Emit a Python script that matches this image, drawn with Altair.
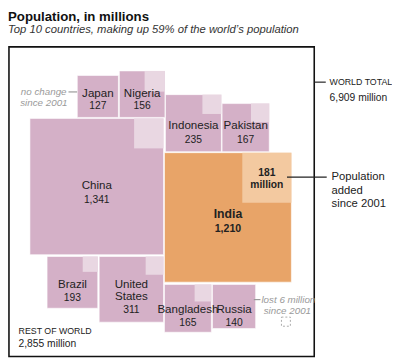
import math
import altair as alt
import pandas as pd

# ---------------- data ----------------
countries = ["China", "India", "Indonesia", "Pakistan", "Japan", "Nigeria",
             "Brazil", "United States", "Bangladesh", "Russia"]
population = [1341, 1210, 235, 167, 127, 156, 193, 311, 165, 140]          # millions
added_since_2001 = [65, 181, 27, 25, 0, 31, 17, 24, 21, -6]                # millions
value_labels = ["1,341", "1,210", "235", "167", "127", "156", "193", "311", "165", "140"]
world_total_label = "6,909 million"
rest_of_world_label = "2,855 million"
title_text = "Population, in millions"
subtitle_text = "Top 10 countries, making up 59% of the world\u2019s population"

# ---------------- layout (reference pixel units) ----------------
K = 3.8  # px per sqrt(million)
anchor_x = [162, 163, 164, 223, 115, 116, 93.5, 162, 163, 213]
anchor_y = [116, 151, 150, 150, 115, 115, 257, 257, 285.5, 285.5]
anchor_h = ["right", "left", "left", "left", "right", "left", "right", "right", "left", "left"]
anchor_v = ["top", "top", "bottom", "bottom", "bottom", "bottom", "top", "top", "top", "top"]
name_y = [184, 214, 123, 123, 90, 90, 285, 285, 311, 311]
value_y = [199, 229, 138, 138, 103, 103, 299, 312, 325, 325]
loss_center = (289.5, 323.5)

FONT = "Liberation Sans"
MAUVE = "#d4b0c7"
MAUVE_LIGHT = "#e9d7e2"
ORANGE = "#e8a468"
ORANGE_LIGHT = "#f3c9a0"
DARK = "#222222"
GREY = "#9a9a9a"

squares, lights, dashed, texts, rules = [], [], [], [], []
for i, c in enumerate(countries):
    side = K * math.sqrt(population[i])
    x0 = anchor_x[i] if anchor_h[i] == "left" else anchor_x[i] - side
    y0 = anchor_y[i] if anchor_v[i] == "top" else anchor_y[i] - side
    x1, y1 = x0 + side, y0 + side
    india = c == "India"
    squares.append(dict(x=x0, x2=x1, y=y0, y2=y1, color=ORANGE if india else MAUVE))
    a = added_since_2001[i]
    if a > 0:
        s = K * math.sqrt(a)
        lights.append(dict(x=x1 - s, x2=x1, y=y0, y2=y0 + s,
                           color=ORANGE_LIGHT if india else MAUVE_LIGHT))
        if india:
            cx, cy = x1 - s / 2, y0 + s / 2
            texts.append(dict(x=cx, y=cy - 5, text=f"{a}", size=10.5, color=DARK, w="bold", st="normal", al="center"))
            texts.append(dict(x=cx, y=cy + 7, text="million", size=10.5, color=DARK, w="bold", st="normal", al="center"))
            rules.append(dict(x=cx + 21, x2=332, y=176, y2=176, color=DARK))
    elif a < 0:
        s = K * math.sqrt(-a)
        dashed.append(dict(x=loss_center[0] - s / 2, x2=loss_center[0] + s / 2,
                           y=loss_center[1] - s / 2, y2=loss_center[1] + s / 2))
    cx = (x0 + x1) / 2
    lines = ["United", "States"] if c == "United States" else [c]
    for j, ln in enumerate(lines):
        texts.append(dict(x=cx, y=name_y[i] + 12 * j, text=ln, size=12.5 if india else 11.8,
                          color=DARK, w="bold" if india else "normal", st="normal", al="center"))
    texts.append(dict(x=cx, y=value_y[i], text=value_labels[i], size=10.8 if india else 10.5,
                      color=DARK, w="bold" if india else "normal", st="normal", al="center"))

# annotations
texts += [
    dict(x=0, y=13, text=title_text, size=13.5, color="#111", w="bold", st="normal", al="left"),
    dict(x=0, y=26, text=subtitle_text, size=11.5, color="#333", w="normal", st="italic", al="left"),
    dict(x=335, y=79, text="WORLD TOTAL", size=9, color=DARK, w="normal", st="normal", al="left"),
    dict(x=335, y=95, text=world_total_label, size=10.5, color=DARK, w="normal", st="normal", al="left"),
    dict(x=337, y=176, text="Population", size=11.5, color=DARK, w="normal", st="normal", al="left"),
    dict(x=337, y=190, text="added", size=11.5, color=DARK, w="normal", st="normal", al="left"),
    dict(x=337, y=203, text="since 2001", size=11.5, color=DARK, w="normal", st="normal", al="left"),
    dict(x=61, y=89, text="no change", size=10, color=GREY, w="normal", st="italic", al="right"),
    dict(x=62, y=100, text="since 2001", size=10, color=GREY, w="normal", st="italic", al="right"),
    dict(x=264, y=301, text="lost 6 million", size=10, color=GREY, w="normal", st="italic", al="left"),
    dict(x=291, y=313, text="since 2001", size=10, color=GREY, w="normal", st="italic", al="center"),
    dict(x=11, y=333, text="REST OF WORLD", size=9, color=DARK, w="normal", st="normal", al="left"),
    dict(x=11, y=346, text=rest_of_world_label, size=10.5, color=DARK, w="normal", st="normal", al="left"),
]
rules += [
    dict(x=319, x2=331, y=79, y2=79, color=DARK),
    dict(x=63, x2=72, y=89, y2=89, color=GREY),
    dict(x=256, x2=263, y=301, y2=301, color=GREY),
]
frame = [dict(x=1, x2=319, y=43, y2=359)]

xs = alt.Scale(domain=[0, 400], nice=False, zero=False)
ys = alt.Scale(domain=[7, 361], nice=False, zero=False, reverse=True)

def pos():
    return dict(x=alt.X("x:Q", scale=xs, axis=None), x2="x2:Q",
                y=alt.Y("y:Q", scale=ys, axis=None), y2="y2:Q")

layers = []
layers.append(alt.Chart(pd.DataFrame(squares)).mark_rect(stroke="white", strokeWidth=0.6)
              .encode(**pos(), color=alt.Color("color:N", scale=None)))
layers.append(alt.Chart(pd.DataFrame(lights)).mark_rect()
              .encode(**pos(), color=alt.Color("color:N", scale=None)))
layers.append(alt.Chart(pd.DataFrame(dashed)).mark_rect(fillOpacity=0, stroke="#aaaaaa",
                                                        strokeWidth=1, strokeDash=[2, 2])
              .encode(**pos()))
layers.append(alt.Chart(pd.DataFrame(frame)).mark_rect(fillOpacity=0, stroke="#111111", strokeWidth=1.6)
              .encode(**pos()))
layers.append(alt.Chart(pd.DataFrame(rules)).mark_rule(strokeWidth=1.2)
              .encode(**pos(), color=alt.Color("color:N", scale=None)))

tdf = pd.DataFrame(texts)
for (w, st, al), g in tdf.groupby(["w", "st", "al"]):
    layers.append(alt.Chart(g).mark_text(font=FONT, fontWeight=w, fontStyle=st, align=al, baseline="middle")
                  .encode(x=alt.X("x:Q", scale=xs, axis=None), y=alt.Y("y:Q", scale=ys, axis=None),
                          text="text:N", size=alt.Size("size:Q", scale=None),
                          color=alt.Color("color:N", scale=None)))

chart = (alt.layer(*layers)
         .properties(width=392, height=354, padding=0, autosize=alt.AutoSizeParams(type="none"),
                     background="white")
         .configure_view(stroke=None))

chart.save("out.html", embed_options={"renderer": "svg", "actions": False})
